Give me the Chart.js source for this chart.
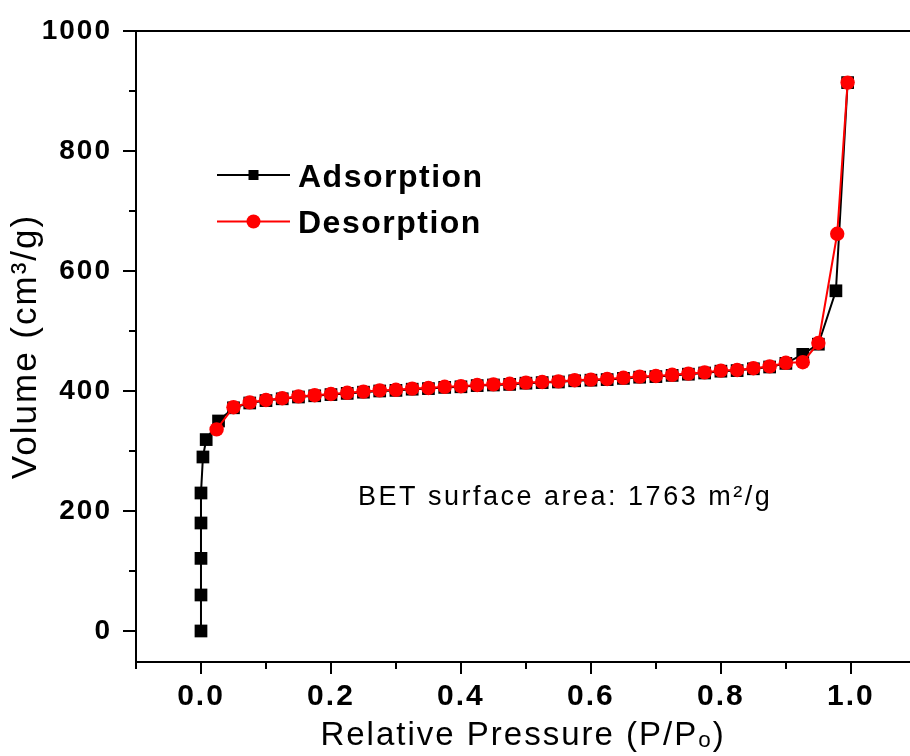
<!DOCTYPE html>
<html>
<head>
<meta charset="utf-8">
<script src="https://cdn.jsdelivr.net/npm/chart.js@4.4.1/dist/chart.umd.min.js"></script>
<style>
html,body{margin:0;padding:0;background:#fff;}
canvas{display:block;}
</style>
</head>
<body>
<canvas id="c" width="910" height="756"></canvas>
<script>
// ---------- data ----------
const seriesNames = ['Adsorption', 'Desorption'];

const adsorptionX = [0.000, 0.000, 0.000, 0.000, 0.000, 0.003, 0.008, 0.027,
  0.050, 0.075, 0.100, 0.125, 0.150, 0.175, 0.200, 0.225, 0.250, 0.275, 0.300,
  0.325, 0.350, 0.375, 0.400, 0.425, 0.450, 0.475, 0.500, 0.525, 0.550, 0.575,
  0.600, 0.625, 0.650, 0.675, 0.700, 0.725, 0.750, 0.775, 0.800, 0.825, 0.850,
  0.875, 0.900, 0.926, 0.950, 0.977, 0.995];
const adsorptionY = [0, 60, 121, 180, 230, 290, 319, 350,
  372, 380, 384, 387, 390, 392, 394, 396, 398, 400, 401,
  403, 404, 406, 407, 409, 410, 411, 413, 414, 415, 417,
  418, 419, 421, 423, 424, 426, 428, 430, 433, 434, 437,
  440, 446, 461, 478, 567, 914];

const desorptionX = [0.995, 0.979, 0.950, 0.926, 0.900, 0.875, 0.850, 0.825,
  0.800, 0.775, 0.750, 0.725, 0.700, 0.675, 0.650, 0.625, 0.600, 0.575, 0.550,
  0.525, 0.500, 0.475, 0.450, 0.425, 0.400, 0.375, 0.350, 0.325, 0.300, 0.275,
  0.250, 0.225, 0.200, 0.175, 0.150, 0.125, 0.100, 0.075, 0.050, 0.024];
const desorptionY = [914, 662, 480, 448, 447, 441, 438, 435,
  434, 431, 429, 427, 425, 424, 422, 420, 419, 418, 416,
  415, 414, 412, 411, 410, 408, 407, 405, 404, 402, 401,
  399, 397, 395, 393, 391, 388, 385, 381, 373, 336];

const xTickValues = [0, 0.2, 0.4, 0.6, 0.8, 1.0];
const xTickLabels = ['0.0', '0.2', '0.4', '0.6', '0.8', '1.0'];
const xMinorTicks = [-0.1, 0.1, 0.3, 0.5, 0.7, 0.9];
const yTickValues = [0, 200, 400, 600, 800, 1000];
const yTickLabels = ['0', '200', '400', '600', '800', '1000'];
const yMinorTicks = [100, 300, 500, 700, 900];

const xTitle = 'Relative Pressure (P/P\u2092)';
const yTitle = 'Volume (cm\u00B3/g)';
const annotationText = 'BET surface area: 1763 m\u00B2/g';

// ---------- chart ----------
const FONT = '"Liberation Sans", Arial, Helvetica, sans-serif';
Chart.defaults.font.family = FONT;
Chart.defaults.color = '#000';

const toPoints = (xs, ys) => xs.map((x, i) => ({x: x, y: ys[i]}));
const noPad = s => { s.paddingTop = 0; s.paddingBottom = 0; s.paddingLeft = 0; s.paddingRight = 0; };

const framePlugin = {
  id: 'frame',
  beforeDraw(chart) {
    chart.ctx.letterSpacing = '2px';
  },
  afterDraw(chart) {
    const {ctx, chartArea: a, scales} = chart;
    const xs = scales.x, ys = scales.y;
    ctx.save();
    ctx.letterSpacing = '0px';
    ctx.strokeStyle = '#000';
    ctx.lineWidth = 2;
    ctx.lineCap = 'butt';
    ctx.beginPath();
    const L = Math.round(a.left), B = Math.round(a.bottom), T = Math.round(a.top);
    ctx.moveTo(L, T - 1); ctx.lineTo(L, B + 6);
    ctx.moveTo(L - 1, B); ctx.lineTo(a.right, B);
    ctx.moveTo(L - 1, T); ctx.lineTo(a.right, T);
    yTickValues.forEach(v => { const p = Math.round(ys.getPixelForValue(v)); ctx.moveTo(L, p); ctx.lineTo(L - 13, p); });
    yMinorTicks.forEach(v => { const p = Math.round(ys.getPixelForValue(v)); ctx.moveTo(L, p); ctx.lineTo(L - 7, p); });
    xTickValues.forEach(v => { const p = Math.round(xs.getPixelForValue(v)); ctx.moveTo(p, B); ctx.lineTo(p, B + 12); });
    xMinorTicks.forEach(v => { const p = Math.round(xs.getPixelForValue(v)); ctx.moveTo(p, B); ctx.lineTo(p, B + 7); });
    ctx.stroke();
    ctx.restore();
  }
};

const legendPlugin = {
  id: 'insetLegend',
  afterDatasetsDraw(chart) {
    const {ctx, chartArea: a} = chart;
    const x0 = a.left + 81, x1 = a.left + 154, cx = (x0 + x1) / 2;
    const y0 = a.top + 144, dy = 46.5;
    chart.data.datasets.forEach((ds, i) => {
      const yy = y0 + i * dy;
      ctx.save();
      ctx.strokeStyle = ds.borderColor;
      ctx.lineWidth = 2;
      ctx.beginPath(); ctx.moveTo(x0, yy); ctx.lineTo(x1, yy); ctx.stroke();
      ctx.fillStyle = ds.backgroundColor;
      ctx.beginPath();
      if (ds.pointStyle === 'rect') ctx.rect(cx - 5, yy - 5, 10, 10);
      else ctx.arc(cx, yy, 7, 0, Math.PI * 2);
      ctx.fill();
      ctx.fillStyle = '#000';
      ctx.font = 'bold 32px ' + FONT;
      ctx.letterSpacing = '1.5px';
      ctx.textAlign = 'left';
      ctx.textBaseline = 'alphabetic';
      ctx.fillText(ds.label, a.left + 162, yy + 11.5);
      ctx.restore();
    });
    ctx.save();
    ctx.fillStyle = '#000';
    ctx.font = '27px ' + FONT;
    ctx.letterSpacing = '2.5px';
    ctx.textAlign = 'left';
    ctx.textBaseline = 'alphabetic';
    ctx.fillText(annotationText, a.left + 222, a.top + 474);
    ctx.restore();
  }
};

new Chart(document.getElementById('c'), {
  type: 'scatter',
  data: {
    datasets: [
      {
        label: seriesNames[0],
        data: toPoints(adsorptionX, adsorptionY),
        showLine: true,
        borderColor: '#000000',
        backgroundColor: '#000000',
        borderWidth: 2,
        pointStyle: 'rect',
        pointRadius: 9,
        pointBorderWidth: 0,
        tension: 0,
        order: 2
      },
      {
        label: seriesNames[1],
        data: toPoints(desorptionX, desorptionY),
        showLine: true,
        borderColor: '#ff0000',
        backgroundColor: '#ff0000',
        borderWidth: 2,
        pointStyle: 'circle',
        pointRadius: 7.2,
        pointBorderWidth: 0,
        tension: 0,
        order: 1
      }
    ]
  },
  options: {
    responsive: false,
    animation: false,
    events: [],
    layout: {autoPadding: false, padding: {top: 31, right: 0, bottom: 0, left: 0}},
    plugins: {legend: {display: false}, tooltip: {enabled: false}},
    scales: {
      x: {
        type: 'linear',
        position: 'bottom',
        min: -0.1,
        max: 1.091,
        grid: {display: false, drawTicks: false},
        border: {display: false},
        afterBuildTicks: s => { s.ticks = xTickValues.map(v => ({value: v})); },
        afterFit: s => { s.height = 94; noPad(s); },
        ticks: {
          autoSkip: false,
          maxRotation: 0,
          padding: 17,
          font: {size: 30, weight: 'bold'},
          color: '#000',
          callback: (v, i) => xTickLabels[i]
        },
        title: {
          display: true,
          text: xTitle,
          font: {size: 33, weight: 'normal'},
          color: '#000',
          padding: {top: 0, bottom: 0}
        }
      },
      y: {
        type: 'linear',
        position: 'left',
        min: -51.7,
        max: 1000,
        grid: {display: false, drawTicks: false},
        border: {display: false},
        afterBuildTicks: s => { s.ticks = yTickValues.map(v => ({value: v})); },
        afterFit: s => { s.width = 136; noPad(s); },
        ticks: {
          autoSkip: false,
          padding: 24,
          font: {size: 28, weight: 'bold'},
          color: '#000',
          callback: (v, i) => yTickLabels[i]
        },
        title: {
          display: true,
          text: yTitle,
          font: {size: 35, weight: 'normal'},
          color: '#000',
          padding: {top: 5, bottom: 0}
        }
      }
    }
  },
  plugins: [framePlugin, legendPlugin]
});
</script>
</body>
</html>
